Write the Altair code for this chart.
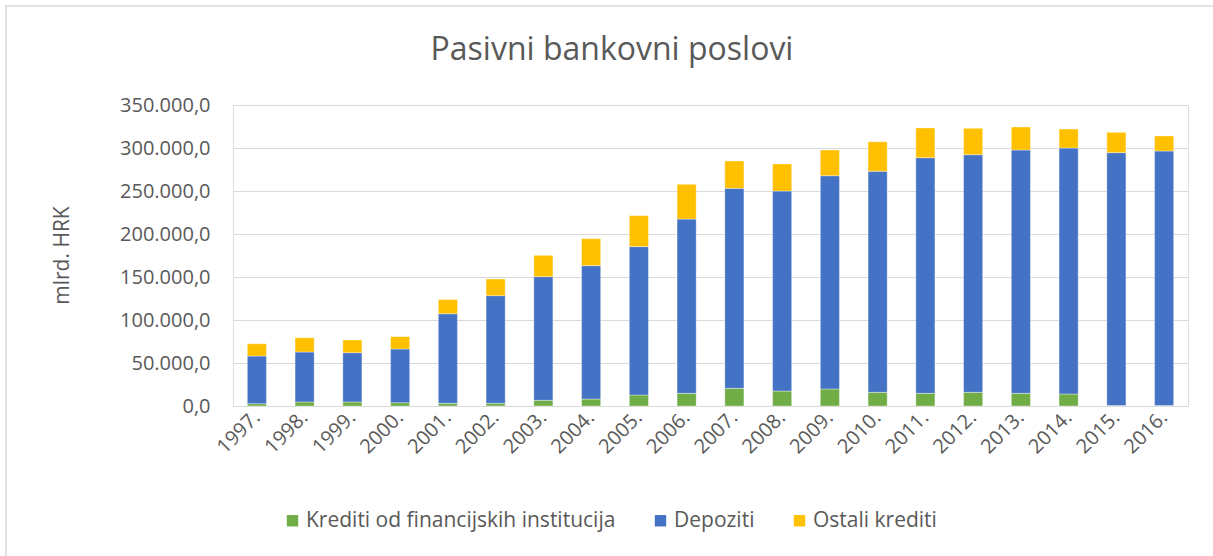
import altair as alt
import pandas as pd

years = ["1997.", "1998.", "1999.", "2000.", "2001.", "2002.", "2003.", "2004.", "2005.", "2006.",
         "2007.", "2008.", "2009.", "2010.", "2011.", "2012.", "2013.", "2014.", "2015.", "2016."]
krediti_fin = [2700, 4700, 4700, 3900, 3100, 3100, 6600, 8100, 12800, 14700,
               20500, 17400, 19800, 15900, 14700, 15900, 14700, 14000, 500, 500]
depoziti = [55400, 58100, 57300, 62400, 104200, 125200, 143800, 155100, 172500, 202700,
            232600, 232600, 248000, 257000, 274000, 276300, 283000, 286000, 294100, 296000]
ostali = [14300, 16600, 14700, 14300, 16500, 19400, 24800, 31400, 36000, 40400,
          31800, 31400, 29900, 34400, 34600, 30700, 26700, 22100, 23600, 17500]

series = ["Krediti od financijskih institucija", "Depoziti", "Ostali krediti"]
colors = ["#70AD47", "#4472C4", "#FFC000"]
y_ticks = [0, 50000, 100000, 150000, 200000, 250000, 300000, 350000]
title_text = "Pasivni bankovni poslovi"

rows = []
for i, y in enumerate(years):
    for k, (name, vals) in enumerate(zip(series, [krediti_fin, depoziti, ostali])):
        rows.append({"year": y, "series": name, "value": vals[i], "ord": k})
df = pd.DataFrame(rows)

FONT = "Open Sans"
TXT = "#595959"

label_expr = "replace(replace(replace(format(datum.value, ',.1f'), ',', '#'), '.', ','), '#', '.')"

bars = alt.Chart(df).mark_bar(stroke="white", strokeWidth=0.6, strokeOpacity=0.6).encode(
    x=alt.X("year:N", sort=years,
            scale=alt.Scale(paddingInner=0.6, paddingOuter=0.3),
            axis=alt.Axis(title=None, labelAngle=-45, labelAlign="right", labelBaseline="middle",
                          labelPadding=8, ticks=False, domain=True, domainColor="#d9d9d9",
                          labelFontSize=20, labelColor=TXT, labelFont=FONT)),
    y=alt.Y("value:Q", stack="zero",
            scale=alt.Scale(domain=[0, 350000], nice=False),
            axis=alt.Axis(title="mlrd. HRK", values=y_ticks, labelExpr=label_expr,
                          ticks=False, domain=False, grid=True, gridColor="#d9d9d9", gridWidth=1.2,
                          labelPadding=23, labelFontSize=20, labelColor=TXT, labelFont=FONT,
                          titleFontSize=21, titleColor=TXT, titleFont=FONT, titleFontWeight="normal",
                          titleX=-171, titleY=150, titleAlign="center", titleBaseline="middle",
                          titleAngle=-90)),
    color=alt.Color("series:N", scale=alt.Scale(domain=series, range=colors),
                    legend=alt.Legend(title=None, orient="none", legendX=49, legendY=405,
                                      direction="horizontal", columns=3, columnPadding=34,
                                      symbolType="square", symbolSize=130, symbolStrokeWidth=0,
                                      labelFontSize=21, labelColor=TXT, labelFont=FONT,
                                      labelOffset=3, labelLimit=0)),
    order=alt.Order("ord:Q", sort="ascending"),
)

border = alt.Chart(alt.Data(values=[{}])).mark_rect(fillOpacity=0, stroke="#d9d9d9", strokeWidth=1.5).encode(
    x=alt.value(-227), x2=alt.value(1100), y=alt.value(-99), y2=alt.value(600)
)

title = alt.Chart(alt.Data(values=[{"t": title_text}])).mark_text(
    font=FONT, fontSize=32, color=TXT, align="center", baseline="alphabetic"
).encode(text="t:N", x=alt.value(379), y=alt.value(-45))

chart = alt.layer(border, bars, title).properties(
    width=955, height=301,
    padding={"left": 233, "top": 105, "right": 25, "bottom": 150},
    autosize=alt.AutoSizeParams(type="none"),
).configure_view(stroke=None).configure(background="white")

chart.save("out.html", embed_options={"renderer": "svg", "actions": False})
